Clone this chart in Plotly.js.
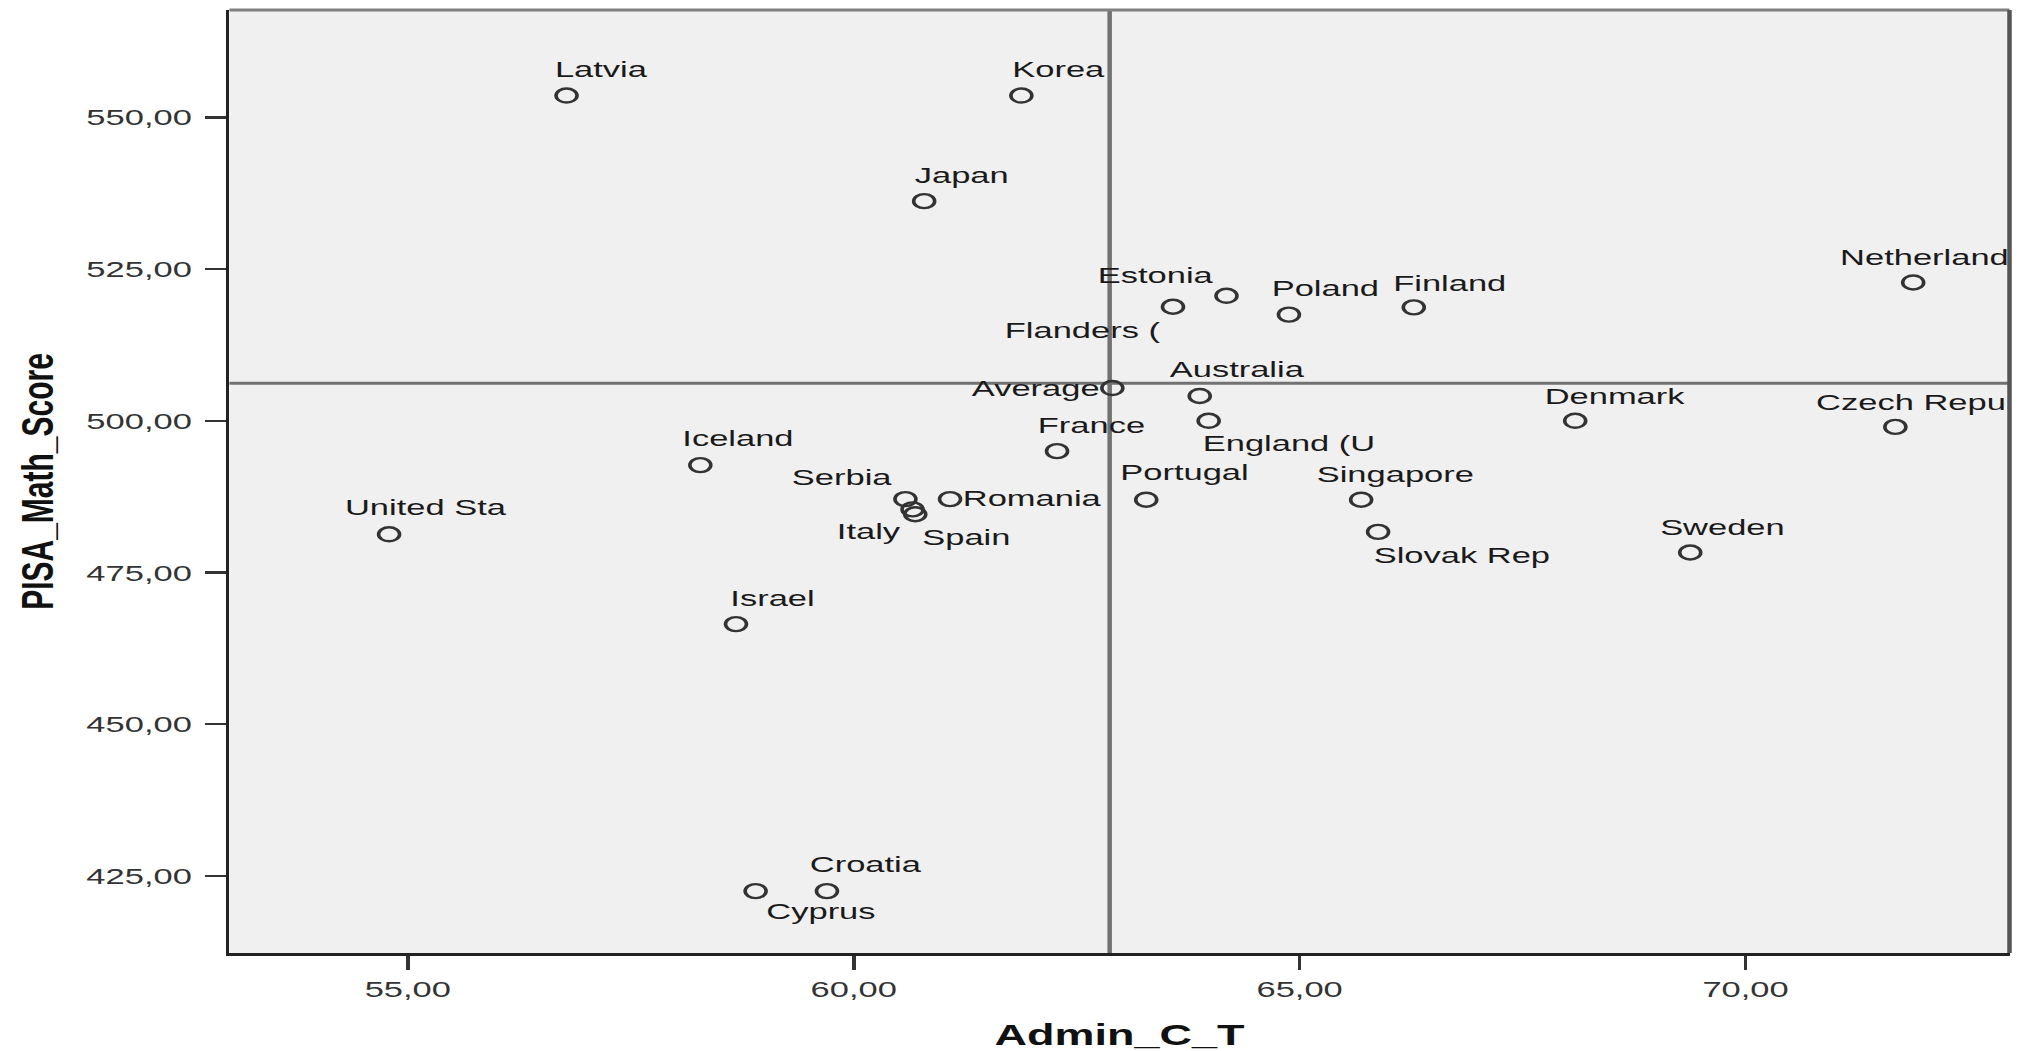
<!DOCTYPE html>
<html>
<head>
<meta charset="utf-8">
<script src="https://cdn.plot.ly/plotly-3.0.1.min.js"></script>
<style>
  html, body { margin: 0; padding: 0; background: #ffffff; overflow: hidden; }
  #wrap { width: 2023px; height: 1051px; overflow: hidden; }
  #chart { width: 1349px; height: 1051px; transform: scaleX(1.49963); transform-origin: 0 0; }
</style>
</head>
<body>
<div id="wrap"><div id="chart"></div></div>
<script>
// ---- data ----
const countries = ["Latvia","Korea","Japan","Estonia","Flanders (","Poland","Finland","Netherland","Denmark","Czech Repu",
  "Australia","England (U","France","Portugal","Iceland","Serbia","Italy","Spain","Romania","Israel",
  "Average","United Sta","Singapore","Slovak Rep","Sweden","Croatia","Cyprus"];
const adminCT = [56.78, 61.88, 60.79, 64.18, 63.58, 64.88, 66.28, 71.88, 68.09, 71.68,
  63.88, 63.98, 62.28, 63.28, 58.28, 60.58, 60.66, 60.69, 61.08, 58.68,
  62.90, 54.79, 65.69, 65.88, 69.38, 59.70, 58.90];
const pisaMath = [553.6, 553.6, 536.2, 520.6, 518.8, 517.5, 518.7, 522.8, 500.0, 499.0,
  504.1, 500.0, 495.0, 487.0, 492.7, 487.1, 485.4, 484.6, 487.1, 466.5,
  505.4, 481.3, 487.0, 481.7, 478.3, 422.5, 422.5];
const refX = 62.87;   // vertical reference line (Admin_C_T mean)
const refY = 506.2;   // horizontal reference line (PISA mean)
const xTitle = "Admin_C_T";
const yTitle = "PISA_Math_Score";

// ---- label placement (style only) ----
const labelAnchor = ["left","left","left","left","left","left","left","left","left","left",
  "left","left","left","left","left","right","right","left","left","left",
  "right","left","left","left","left","left","left"];
const labelDx = [-7.4,-5.9,-6.5,-85.5,-112.2,-11,-13.3,-49.2,-20.4,-52.9,
  -20,-3.6,-12.5,-16.9,-12.5,-8.3,-7.7,5.1,8.3,-3.9,
  -9,-29.2,-29.3,-3.3,-19.7,-11.4,7.4];
const labelDy = [-26.7,-26.7,-25.7,-21,23.3,-26.4,-24.8,-25.3,-25.2,-25,
  -27,21.8,-26,-27.3,-26.7,-22.3,22,22.4,-0.7,-26,
  0,-27.3,-26,22.7,-26,-26.7,20];

const FONT = '"Liberation Sans", Arial, Helvetica, sans-serif';

const trace = {
  type: 'scatter',
  mode: 'markers',
  x: adminCT,
  y: pisaMath,
  text: countries,
  hoverinfo: 'skip',
  marker: { symbol: 'circle-open', size: 14, color: '#333333', line: { width: 2.4, color: '#333333' } },
  showlegend: false
};

const annotations = countries.map((c, i) => ({
  x: adminCT[i], y: pisaMath[i], xref: 'x', yref: 'y',
  text: c, showarrow: false,
  xanchor: labelAnchor[i], yanchor: 'middle',
  xshift: labelDx[i], yshift: -labelDy[i],
  borderpad: 0, borderwidth: 0,
  font: { family: FONT, size: 23, color: '#1a1a1a' }
}));

const shapes = [
  { type: 'line', xref: 'x', yref: 'paper', x0: refX, x1: refX, y0: 0, y1: 1,
    line: { color: '#727272', width: 3 }, layer: 'below' },
  { type: 'line', xref: 'paper', yref: 'y', x0: 0, x1: 1, y0: refY, y1: refY,
    line: { color: '#727272', width: 3 }, layer: 'below' },
  { type: 'line', xref: 'paper', yref: 'paper', x0: 0, x1: 1, y0: 1, y1: 1,
    line: { color: '#808080', width: 3 }, layer: 'above' },
  { type: 'line', xref: 'paper', yref: 'paper', x0: 1, x1: 1, y0: 0, y1: 1,
    line: { color: '#555555', width: 3 }, layer: 'above' }
];

const layout = {
  width: 1349, height: 1051,
  margin: { l: 153, r: 9, t: 10, b: 98, pad: 0 },
  paper_bgcolor: '#ffffff',
  plot_bgcolor: '#f0f0f0',
  separators: ',.',
  font: { family: FONT, color: '#333333' },
  xaxis: {
    range: [53.0, 72.96], tick0: 55, dtick: 5, tickformat: '.2f',
    showgrid: false, zeroline: false,
    showline: true, linecolor: '#222222', linewidth: 2.5, mirror: false,
    ticks: 'outside', ticklen: 14, tickwidth: 2.5, tickcolor: '#333333',
    tickfont: { family: FONT, size: 23, color: '#333333' },
    automargin: false,
    title: { text: xTitle, standoff: 26, font: { family: FONT, size: 30, color: '#111111', weight: 'bold' } }
  },
  yaxis: {
    range: [412.3, 567.7], tick0: 425, dtick: 25, tickformat: '.2f',
    showgrid: false, zeroline: false,
    showline: true, linecolor: '#222222', linewidth: 2.5, mirror: false,
    ticks: 'outside', ticklen: 14, tickwidth: 2.5, tickcolor: '#333333',
    ticklabelstandoff: 4,
    tickfont: { family: FONT, size: 23, color: '#333333' },
    automargin: false,
    title: { text: yTitle, standoff: 13, font: { family: FONT, size: 30, color: '#111111', weight: 'bold' } }
  },
  shapes: shapes,
  annotations: annotations,
  hovermode: false
};

Plotly.newPlot('chart', [trace], layout, { displayModeBar: false, staticPlot: true });
</script>
</body>
</html>
